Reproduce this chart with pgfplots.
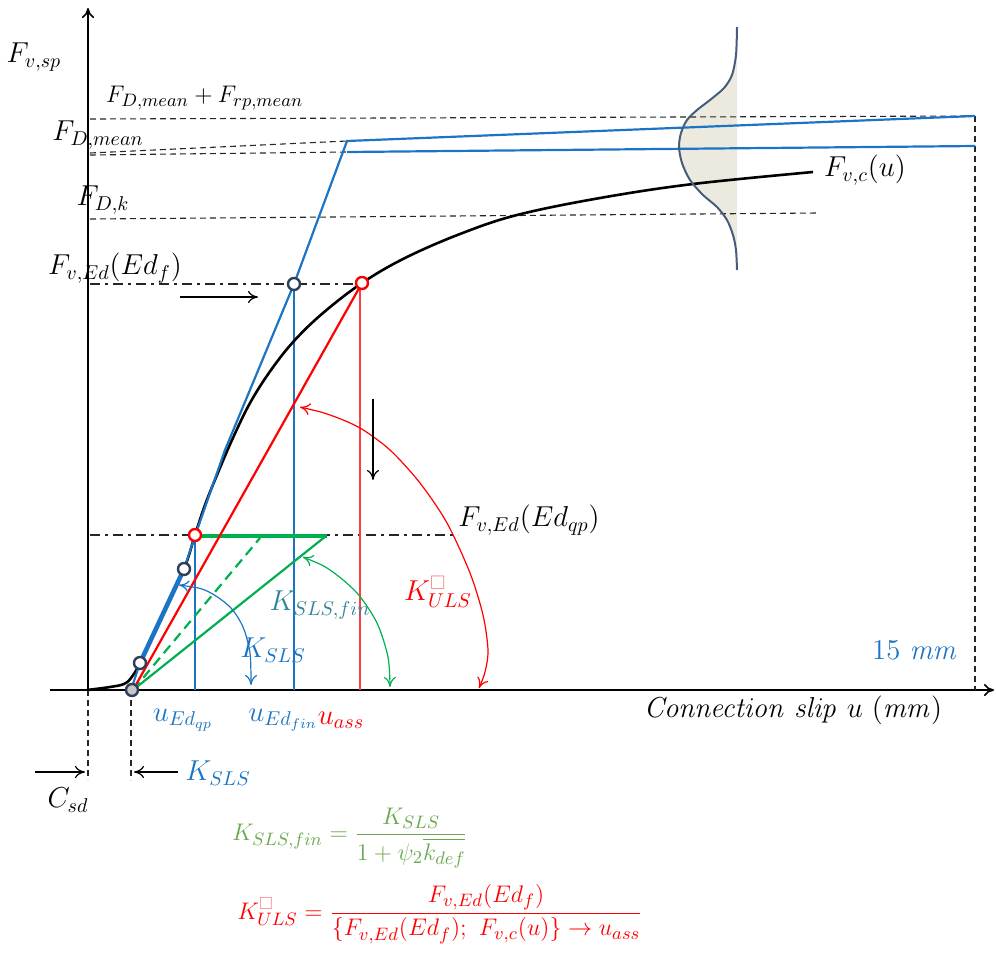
\documentclass[border=0pt]{standalone}
\usepackage{pgfplots}
\pgfplotsset{compat=1.18}
\usepackage{amssymb}
\usetikzlibrary{arrows.meta}
\definecolor{myblue}{RGB}{27,117,196}
\definecolor{mygreen}{RGB}{0,176,80}
\definecolor{txtgreen}{RGB}{106,168,79}
\definecolor{myteal}{RGB}{49,132,155}
\definecolor{myred}{RGB}{255,0,0}
\definecolor{navy}{RGB}{47,62,90}
\definecolor{bellline}{RGB}{70,92,125}
\definecolor{bellfill}{RGB}{236,233,223}
\begin{document}
\begin{tikzpicture}[font=\fontsize{14}{17}\selectfont,
  dsh/.style={black!85, line width=0.55pt, dash pattern=on 3pt off 2pt},
  dd/.style={black!85, line width=0.6pt, dash pattern=on 5pt off 2.5pt on 1.5pt off 2.5pt},
  arr/.style={-{To[length=5pt,width=6pt]}},
  barr/.style={{To[length=5pt,width=6pt]}-{To[length=5pt,width=6pt]}}]
\begin{axis}[width=498pt,height=477pt,scale only axis,
  xmin=0,xmax=996,ymin=0,ymax=954,y dir=reverse,hide axis,clip=false]
\addplot[draw=none] coordinates {(0,0) (996,954)};
% bell fill
\addplot[fill=bellfill, draw=none] coordinates {(737,27) (736,55) (732,75) (724,88) (710,100) (697,110) (687,120) (681,133) (679,147) (682,163) (690,180) (703,195) (717,207) (727,220) (733,235) (736,250) (737,270)} -- cycle;
% axes
\addplot[black, line width=0.8pt, arr] coordinates {(50,690) (994,690)};
\addplot[black, line width=0.8pt, arr] coordinates {(88,690) (88,8)};
% dashed lines
\addplot[dsh] coordinates {(90,119) (975,116)};
\addplot[dsh] coordinates {(90,153) (347,141)};
\addplot[dsh] coordinates {(90,155) (347,152)};
\addplot[dsh] coordinates {(90,219) (818,213)};
\addplot[dsh] coordinates {(975,116) (975,690)};
\addplot[dsh] coordinates {(88,690) (88,780)};
\addplot[dsh] coordinates {(131,690) (131,780)};
% dash-dot lines
\addplot[dd] coordinates {(90,284) (362,284)};
\addplot[dd] coordinates {(90,535) (458,535)};
% thin verticals
\addplot[myblue, line width=0.6pt] coordinates {(195,536) (195,690)};
\addplot[myblue, line width=0.6pt] coordinates {(294,284) (294,690)};
\addplot[myred!75, line width=0.6pt] coordinates {(360,283) (360,690)};
% green lines
\addplot[mygreen, line width=1.1pt] coordinates {(133,690) (326,536)};
\addplot[mygreen, line width=1.1pt, dash pattern=on 5pt off 3pt] coordinates {(133,690) (260,538)};
\addplot[mygreen, line width=2.2pt] coordinates {(195,536) (327,536)};
% red line
\addplot[myred, line width=1.1pt] coordinates {(133,690) (362,283)};
% black curve
\addplot[black, line width=1.3pt, smooth, tension=0.6] coordinates {(87,690) (110,687) (124,684) (131,678) (140,663) (162,616) (184,569) (195,535) (205,505) (217,475) (232,440) (250,403) (271,370) (294,341) (323,313) (362,283) (405,258) (460,234) (517,215) (600,198) (693,184) (813,172)};
% blue lines
\addplot[myblue, line width=1.1pt] coordinates {(131,690) (140,663) (184,569) (195,536) (225,450) (294,284) (347,141) (975,116)};
\addplot[myblue, line width=1.1pt] coordinates {(347,152) (975,146)};
\addplot[myblue, line width=2.3pt] coordinates {(140,663) (184,569)};
% bell outline
\addplot[bellline, line width=1pt, smooth] coordinates {(737,27) (736,55) (732,75) (724,88) (710,100) (697,110) (687,120) (681,133) (679,147) (682,163) (690,180) (703,195) (717,207) (727,220) (733,235) (736,250) (737,270)};
% arcs
\addplot[myblue, line width=0.6pt, smooth, barr] coordinates {(179,585) (207,591) (230,607) (243,627) (250,653) (251,685)};
\addplot[mygreen, line width=0.6pt, smooth, barr] coordinates {(303,557) (330,570) (357,593) (377,623) (388,657) (390,687)};
\addplot[myred, line width=0.6pt, smooth, barr] coordinates {(300,407) (330,415) (360,428) (390,450) (420,483) (447,523) (470,573) (483,615) (488,650) (485,672) (479,688)};
% black arrows
\addplot[black, line width=0.6pt, arr] coordinates {(180,297) (258,297)};
\addplot[black, line width=0.6pt, arr] coordinates {(373,399) (373,480)};
\addplot[black, line width=0.6pt, arr] coordinates {(35,772) (85,772)};
\addplot[black, line width=0.6pt, arr] coordinates {(178,772) (134,772)};
% markers
\addplot[only marks, mark=*, mark size=3pt, mark options={fill=white, draw=navy, line width=1.2pt}] coordinates {(294,284) (184,569) (140,663)};
\addplot[only marks, mark=*, mark size=3pt, mark options={fill=white, draw=myred, line width=1.2pt}] coordinates {(362,283) (195,535)};
\addplot[only marks, mark=*, mark size=3pt, mark options={fill=gray!45, draw=navy, line width=1.2pt}] coordinates {(132,690)};
% labels
\node at (axis cs:34,57) {$F_{v,sp}$};
\node[anchor=west,font=\fontsize{12.5}{15}\selectfont] at (axis cs:99,98) {$F_{D,mean}+F_{rp,mean}$};
\node at (axis cs:98,135) {$F_{D,mean}$};
\node at (axis cs:103,200) {$F_{D,k}$};
\node at (axis cs:115,268) {$F_{v,Ed}(Ed_f)$};
\node at (axis cs:529,520) {$F_{v,Ed}(Ed_{qp})$};
\node at (axis cs:865,170) {$F_{v,c}(u)$};
\node[text=myteal] at (axis cs:320,605) {$K_{SLS,fin}$};
\node[text=myred] at (axis cs:438,592) {$K^{\textcolor{myred!55}{\square}}_{ULS}$};
\node[text=myblue] at (axis cs:273,650) {$K_{SLS}$};
\node[text=myblue] at (axis cs:183,720) {$u_{Ed_{qp}}$};
\node[text=myblue] at (axis cs:283,720) {$u_{Ed_{fin}}$};
\node[text=myred] at (axis cs:341,720) {$u_{ass}$};
\node at (axis cs:793,710) {$\mathit{Connection\ slip}\ u\ (\mathit{mm})$};
\node[text=myblue] at (axis cs:915,650) {$15\ \mathit{mm}$};
\node at (axis cs:68,800) {$C_{sd}$};
\node[text=myblue] at (axis cs:218,773) {$K_{SLS}$};
\node[text=txtgreen,font=\fontsize{12.5}{15}\selectfont] at (axis cs:350,838) {$\displaystyle K_{SLS,fin}=\frac{K_{SLS}}{1+\psi_2\overline{k_{def}}}$};
\node[text=myred,font=\fontsize{12.5}{15}\selectfont] at (axis cs:440,914) {$\displaystyle K^{\textcolor{myred!55}{\square}}_{ULS}=\frac{F_{v,Ed}(Ed_f)}{\{F_{v,Ed}\bigl(Ed_f\bigr);\ F_{v,c}(u)\}\to u_{ass}}$};
\end{axis}
\end{tikzpicture}
\end{document}
